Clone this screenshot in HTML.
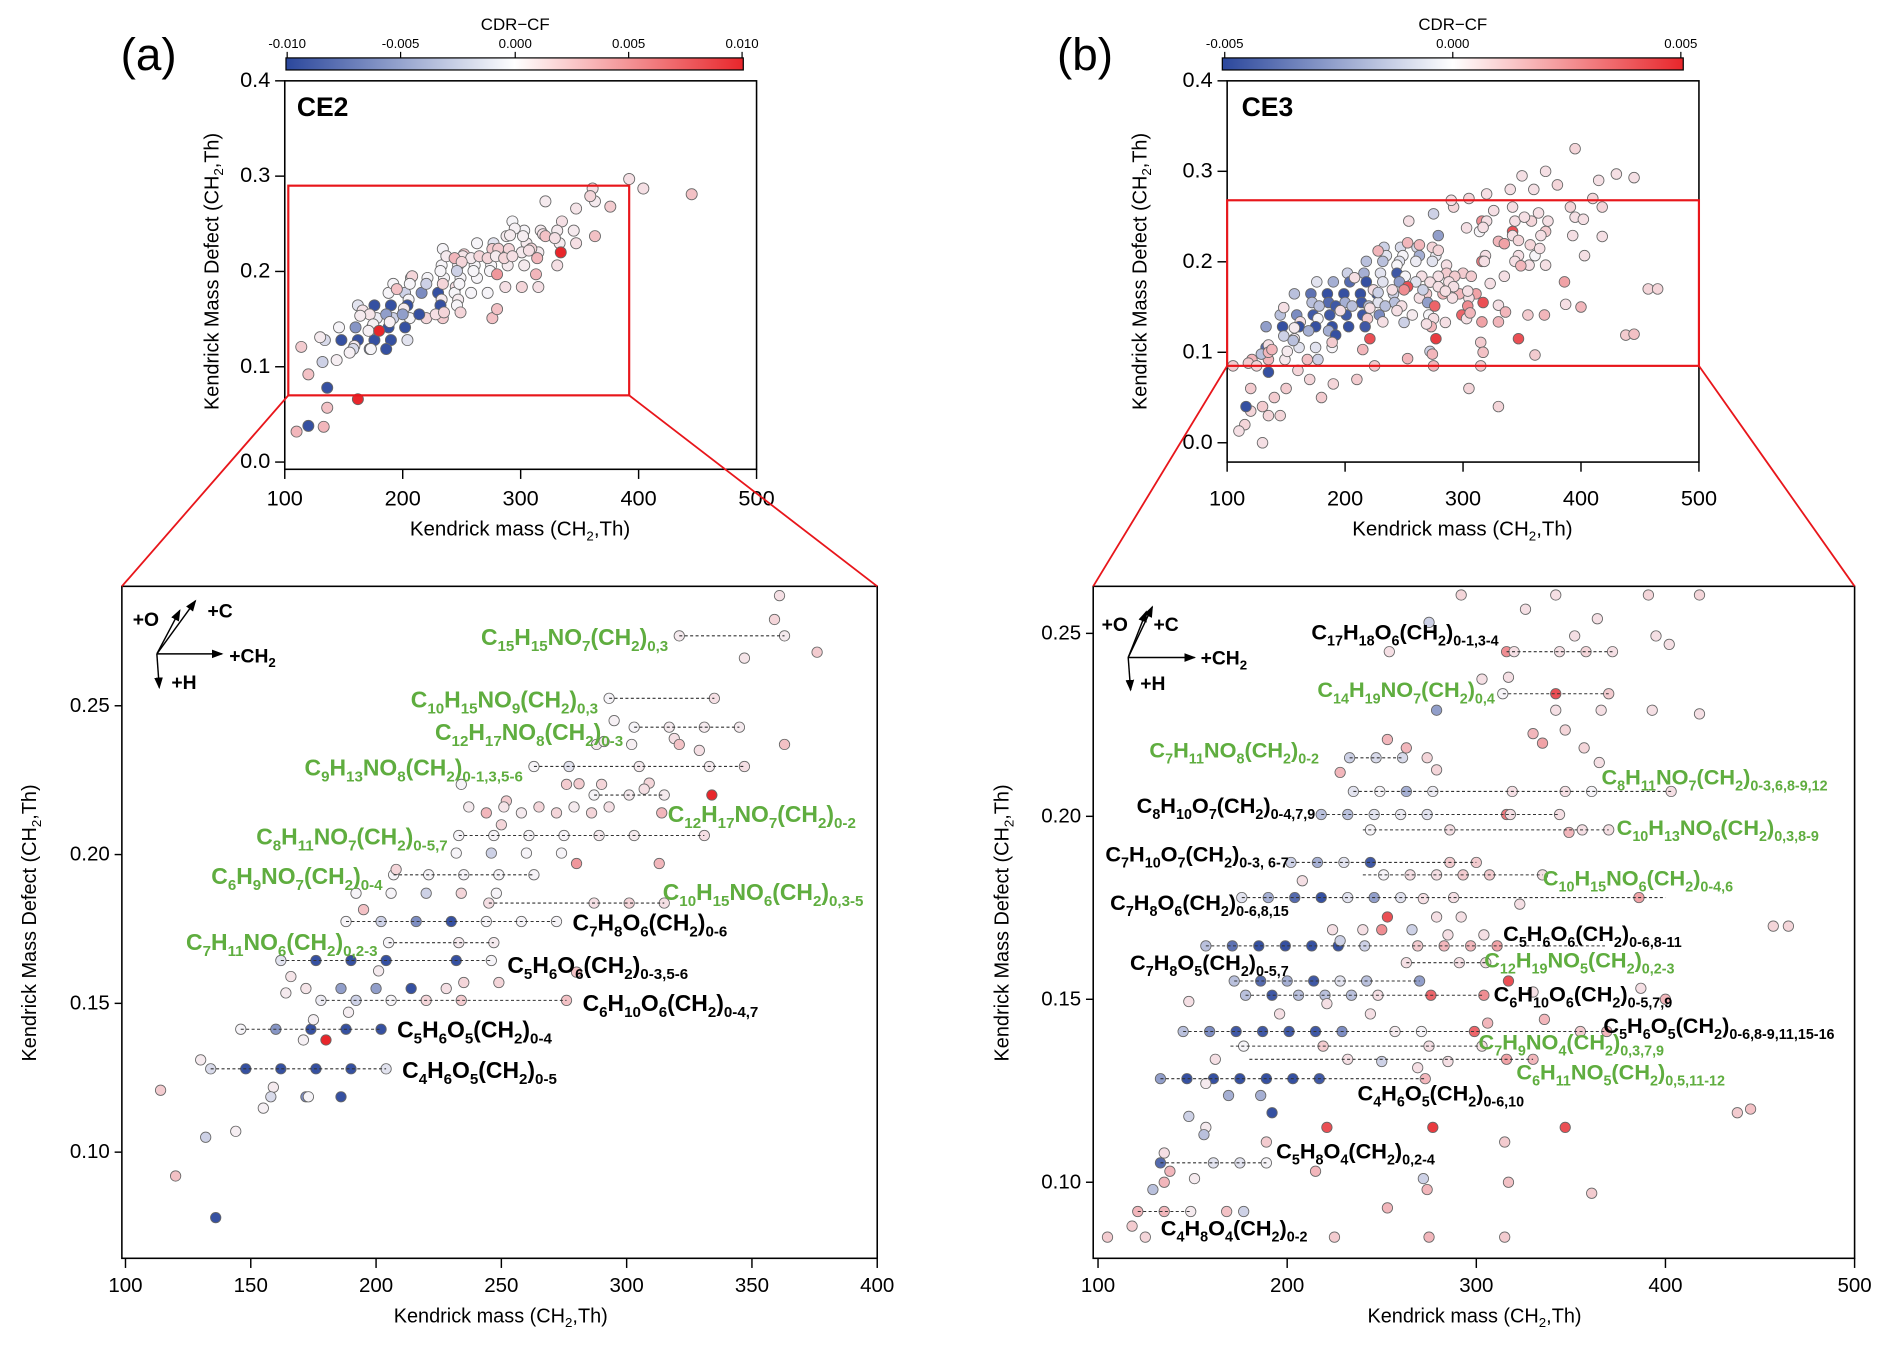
<!DOCTYPE html>
<html><head><meta charset="utf-8"><style>
html,body{margin:0;padding:0;background:#fff;overflow:hidden;width:1892px;height:1350px;}
svg{display:block;}
text{font-family:"Liberation Sans",Arial,sans-serif;}
.nar{font-family:"Liberation Sans Narrow","Liberation Sans",sans-serif;}
</style></head><body>
<svg id="fig" width="1892" height="1350" viewBox="0 0 1568 1119" preserveAspectRatio="none" xmlns="http://www.w3.org/2000/svg">
<defs>
<linearGradient id="cbg" x1="0" x2="1" y1="0" y2="0">
<stop offset="0" stop-color="#2b479c"/><stop offset="0.5" stop-color="#ffffff"/><stop offset="1" stop-color="#e8262b"/>
</linearGradient>
<marker id="arr" markerWidth="8" markerHeight="8" refX="7" refY="4" orient="auto"><path d="M0,1 L8,4 L0,7 z" fill="#000"/></marker>
</defs>
<text x="100" y="58" font-size="38">(a)</text>
<text x="427" y="25" font-size="14" text-anchor="middle" class="nar">CDR−CF</text>
<rect x="237" y="48" width="379" height="10" fill="url(#cbg)" stroke="#000" stroke-width="1"/>
<g class="nar" font-size="11" text-anchor="middle">
<text x="238" y="40">-0.010</text><text x="332" y="40">-0.005</text><text x="427" y="40">0.000</text><text x="521" y="40">0.005</text><text x="615" y="40">0.010</text>
<path d="M238,43V48M332,43V48M427,43V48M521,43V48M615,43V48" stroke="#000"/>
</g>
<rect x="236" y="67" width="391" height="322" fill="none" stroke="#000" stroke-width="1.3"/>
<text x="246" y="96" font-size="22" font-weight="bold" class="nar">CE2</text>
<text transform="translate(181,225) rotate(-90)" font-size="16.5" text-anchor="middle">Kendrick Mass Defect (CH<tspan font-size="11" dy="4">2</tspan><tspan dy="-4">,Th)</tspan></text>
<text x="431" y="444" font-size="17" text-anchor="middle" class="nar">Kendrick mass (CH<tspan font-size="11" dy="4">2</tspan><tspan dy="-4">,Th)</tspan></text>
<text x="876" y="58" font-size="38">(b)</text>
<text x="1204" y="25" font-size="14" text-anchor="middle" class="nar">CDR−CF</text>
<rect x="1013" y="48" width="382" height="10" fill="url(#cbg)" stroke="#000" stroke-width="1"/>
<g class="nar" font-size="11" text-anchor="middle">
<text x="1015" y="40">-0.005</text><text x="1204" y="40">0.000</text><text x="1393" y="40">0.005</text>
<path d="M1015,43V48M1204,43V48M1393,43V48" stroke="#000"/>
</g>
<rect x="1017" y="67" width="391" height="316" fill="none" stroke="#000" stroke-width="1.3"/>
<text x="1029" y="96" font-size="22" font-weight="bold" class="nar">CE3</text>
<text transform="translate(950,225) rotate(-90)" font-size="16.5" text-anchor="middle">Kendrick Mass Defect (CH<tspan font-size="11" dy="4">2</tspan><tspan dy="-4">,Th)</tspan></text>
<text x="1212" y="444" font-size="17" text-anchor="middle" class="nar">Kendrick mass (CH<tspan font-size="11" dy="4">2</tspan><tspan dy="-4">,Th)</tspan></text>
<rect x="101" y="486" width="626" height="557" fill="none" stroke="#000" stroke-width="1.3"/>
<rect x="906" y="486" width="631" height="557" fill="none" stroke="#000" stroke-width="1.3"/>
<text transform="translate(30,765) rotate(-90)" font-size="16.5" text-anchor="middle">Kendrick Mass Defect (CH<tspan font-size="11" dy="4">2</tspan><tspan dy="-4">,Th)</tspan></text>
<text x="415" y="1096" font-size="16.5" text-anchor="middle">Kendrick mass (CH<tspan font-size="11" dy="4">2</tspan><tspan dy="-4">,Th)</tspan></text>
<text transform="translate(836,765) rotate(-90)" font-size="16.5" text-anchor="middle">Kendrick Mass Defect (CH<tspan font-size="11" dy="4">2</tspan><tspan dy="-4">,Th)</tspan></text>
<text x="1222" y="1096" font-size="16.5" text-anchor="middle">Kendrick mass (CH<tspan font-size="11" dy="4">2</tspan><tspan dy="-4">,Th)</tspan></text>
<g stroke="#000" stroke-width="1.2" fill="none">
<line x1="130" y1="542" x2="184" y2="542" marker-end="url(#arr)"/>
<line x1="130" y1="542" x2="162" y2="498" marker-end="url(#arr)"/>
<line x1="130" y1="542" x2="149" y2="506" marker-end="url(#arr)"/>
<line x1="130" y1="542" x2="132" y2="570" marker-end="url(#arr)"/>
</g>
<g font-weight="bold" font-size="16">
<text x="110" y="519">+O</text><text x="172" y="512">+C</text><text x="190" y="549">+CH<tspan font-size="11" dy="4">2</tspan></text><text x="142" y="571">+H</text>
</g>
<g stroke="#000" stroke-width="1.2" fill="none">
<line x1="935" y1="545" x2="990" y2="545" marker-end="url(#arr)"/>
<line x1="935" y1="545" x2="955" y2="503" marker-end="url(#arr)"/>
<line x1="935" y1="545" x2="950" y2="507" marker-end="url(#arr)"/>
<line x1="935" y1="545" x2="937" y2="572" marker-end="url(#arr)"/>
</g>
<g font-weight="bold" font-size="16">
<text x="913" y="523">+O</text><text x="956" y="523">+C</text><text x="995" y="551">+CH<tspan font-size="11" dy="4">2</tspan></text><text x="945" y="572">+H</text>
</g>
<g id="dyn"></g>
</svg>
<script>
// ---------- panel (a) CE2: [mass, KMD, CDR-CF (normalised)] ----------
const aSeriesPoints = [
[321,.2735,.05],[363,.2735,.05],
[293,.2525,0],[335,.2525,.1],
[303,.2428,0],[317,.2428,.05],[331,.2428,.05],[345,.2428,.05],
[263,.2296,0],[277,.2296,-.1],[305,.2296,.05],[333,.2296,.05],[347,.2296,.1],
[287,.220,0],[301,.220,.05],[315,.220,.05],
[233,.2064,0],[247,.2064,0],[261,.2064,0],[275,.2064,0],[289,.2064,.05],[303,.2064,.05],[331,.2064,.1],
[207,.1932,0],[221,.1932,0],[235,.1932,0],[249,.1932,0],[263,.1932,0],
[245,.1837,.1],[287,.1837,.1],[301,.1837,.15],[315,.1837,.1],
[188,.1775,0],[202,.1775,-.2],[216,.1775,-.6],[230,.1775,-.95],[244,.1775,0],[258,.1775,0],[272,.1775,0],
[205,.1704,0],[233,.1704,.05],[247,.1704,.05],
[162,.1644,-.1],[176,.1644,-.95],[190,.1644,-.95],[204,.1644,-.95],[232,.1644,-.95],[246,.1644,0],
[178,.151,-.05],[192,.151,-.2],[206,.151,0],[220,.151,.15],[234,.151,.2],[276,.151,.25],
[146,.1413,0],[160,.1413,-.55],[174,.1413,-.95],[188,.1413,-.95],[202,.1413,-.95],
[134,.128,-.15],[148,.128,-.95],[162,.128,-.95],[176,.128,-.95],[190,.128,-.95],[204,.128,-.1]];
const aOtherPoints = [
[361,.287,.1],[359,.279,.15],[347,.266,.08],[376,.268,.2],[295,.245,.02],[288,.237,.05],[291,.238,.05],[302,.237,.03],[319,.239,.1],[321,.237,.25],[329,.235,.1],[363,.237,.25],
[234,.2236,0],[276,.2236,.2],[281,.2238,.2],[290,.2236,.15],[309,.224,.15],[307,.222,.1],[334,.220,1],
[237,.216,.05],[252,.218,.2],[251,.216,.08],[244,.214,.3],[258,.214,.05],[265,.216,.15],[272,.214,.15],[279,.216,.05],[286,.214,.15],[293,.216,.1],[314,.214,.3],[250,.210,.15],
[232,.2005,0],[246,.2005,-.2],[260,.2005,0],[274,.2005,0],[280,.197,.45],[313,.197,.3],
[208,.195,.15],[192,.187,0],[206,.187,0],[220,.187,-.2],[234,.187,.15],[248,.187,0],[195,.1815,.25],
[201,.1609,.05],[166,.159,.08],[280,.1605,.25],[172,.155,.08],[186,.155,-.5],[200,.155,-.5],[214,.155,-.95],[228,.155,.1],[235,.157,.15],[249,.157,.15],[164,.1535,.05],
[175,.1445,.02],[189,.147,.03],[171,.1377,.02],[180,.1377,1],
[130,.131,.05],[114,.1208,.2],[159,.1218,.05],[158,.1186,-.15],[172,.1186,-.6],[173,.1186,0],[186,.1186,-.95],[155,.1148,.02],[144,.107,.03],[132,.105,-.2],[120,.092,.25],[136,.078,-.95],
[445,.281,.25],[404,.287,.1],[392,.297,.1],[162,.066,1],[136,.057,.25],[120,.038,-.95],[133,.037,.3],[110,.032,.3]];
const aPoints = aSeriesPoints.concat(aOtherPoints);
const aMass = aPoints.map(p=>p[0]), aKmd = aPoints.map(p=>p[1]), aCdr = aPoints.map(p=>p[2]);
const aLineK = [.2735,.2525,.2428,.2296,.220,.2064,.1932,.1837,.1775,.1704,.1644,.151,.1413,.128];
const aLineStart = [321,293,303,263,287,233,207,245,188,205,162,178,146,134];
const aLineEnd = [363,335,345,347,315,331,263,315,272,247,246,276,202,204];
const aLabels = ["C15H15NO7(CH2)0,3","C10H15NO9(CH2)0,3","C12H17NO8(CH2)0-3","C9H13NO8(CH2)0-1,3,5-6","C12H17NO7(CH2)0-2","C8H11NO7(CH2)0-5,7","C6H9NO7(CH2)0-4","C10H15NO6(CH2)0,3-5","C7H8O6(CH2)0-6","C7H11NO6(CH2)0,2-3","C5H6O6(CH2)0-3,5-6","C6H10O6(CH2)0-4,7","C5H6O5(CH2)0-4","C4H6O5(CH2)0-5"];
const aLabelMass = [319,291,301,261,314,231,205,312,276,203,250,280,206,208];
const aLabelKmd = [.2725,.2515,.2405,.2286,.2130,.2054,.1922,.1868,.1765,.1700,.1623,.1495,.1405,.1270];
const aLabelSide = ["end","end","end","end","start","end","end","start","start","end","start","start","start","start"];
const aLabelGreen = [1,1,1,1,1,1,1,1,0,1,0,0,0,0];
const aXTicksTop = [100,200,300,400,500], aYTicksTop = [0.0,0.1,0.2,0.3,0.4];
const aXTicksZoom = [100,150,200,250,300,350,400], aYTicksZoom = [0.10,0.15,0.20,0.25];

// ---------- panel (b) CE3 ----------
const bSeriesPoints = [
[316,.245,.5],[320,.245,.1],[344,.245,.1],[358,.245,.15],[372,.245,.1],
[314,.2335,0],[342,.2335,.8],[370,.2335,.2],
[233,.216,-.2],[247,.216,-.15],[261,.216,-.15],
[235,.2068,-.1],[249,.2068,0],[263,.2068,-.4],[277,.2068,-.05],[319,.2068,.1],[347,.2068,.1],[361,.2068,0],[403,.2068,.1],
[218,.2005,-.3],[232,.2005,-.3],[246,.2005,-.1],[260,.2005,-.05],[274,.2005,-.1],[316,.2005,.6],[344,.2005,.1],
[244,.1963,0],[286,.1963,.1],[356,.1963,.1],[370,.1963,.1],
[202,.1874,-.2],[216,.1874,-.4],[230,.1874,-.1],[244,.1874,-.9],[286,.1874,.2],[300,.1874,.2],
[251,.184,0],[265,.184,.1],[279,.184,.1],[293,.184,.2],[307,.184,.2],[335,.184,.1],
[176,.1778,-.1],[190,.1778,-.4],[204,.1778,-.8],[218,.1778,-.95],[232,.1778,-.1],[246,.1778,-.5],[260,.1778,-.1],[288,.1778,.1],[386,.1778,.4],
[157,.1646,-.3],[171,.1646,-.75],[185,.1646,-.95],[199,.1646,-.95],[213,.1646,-.95],[227,.1646,-.95],[241,.1646,-.2],[269,.1646,.2],[283,.1646,.3],[297,.1646,.3],[311,.1646,.4],
[263,.160,.1],[291,.160,.1],[305,.160,.1],
[172,.155,-.3],[186,.155,-.8],[200,.155,-.4],[214,.155,-.9],[228,.155,-.1],[242,.155,-.3],[270,.155,-.5],
[178,.1511,-.3],[192,.1511,-.9],[206,.1511,-.3],[220,.1511,-.3],[234,.1511,-.3],[248,.1511,.1],[276,.1511,.7],[304,.1511,.5],
[145,.1412,-.3],[159,.1412,-.6],[173,.1412,-.9],[187,.1412,-.9],[201,.1412,-.9],[215,.1412,-.9],[229,.1412,-.6],[257,.1412,.05],[271,.1412,0],[299,.1412,.7],[355,.1412,.2],[369,.1412,.3],
[177,.1372,0],[219,.1372,.2],[275,.1372,.1],[303,.1372,.1],
[162,.1336,.1],[232,.1336,.1],[316,.1336,.4],[330,.1336,.3],
[133,.1283,-.5],[147,.1283,-.95],[161,.1283,-.95],[175,.1283,-.95],[189,.1283,-.95],[203,.1283,-.95],[217,.1283,-.9],[273,.1283,.3],
[133,.1053,-.8],[161,.1053,-.1],[175,.1053,-.1],[189,.1053,0],
[121,.092,.3],[135,.092,.3],[149,.092,.05]];
const bOtherPoints = [
[292,.2605,.15],[342,.2605,.1],[391,.2605,.15],[418,.2605,.15],[275,.253,-.2],[326,.2566,.1],[352,.2493,.1],[364,.254,.1],[395,.2493,.1],[402,.247,.1],[254,.245,.1],[303,.2375,.1],[317,.238,.1],[279,.229,-.5],[342,.229,.1],[366,.229,.1],[418,.228,.1],[393,.229,.1],[330,.2226,.3],[335,.220,.4],[347,.2236,.15],[357,.2187,.15],[365,.2147,.1],[263,.2187,.3],[274,.216,.15],[279,.2127,.15],[228,.212,.3],[253,.221,.3],[318,.2005,.1],[349,.1956,.3],[208,.1824,.1],[272,.1775,.1],[279,.1725,.1],[292,.1725,.1],[323,.176,.1],[224,.169,.1],[240,.169,.1],[253,.1725,.8],[266,.169,-.2],[285,.1676,.1],[304,.1676,.1],[228,.166,-.2],[250,.169,.5],[457,.170,.15],[317,.155,.8],[330,.152,.1],[387,.153,.1],[148,.1494,.1],[196,.146,.1],[221,.1488,.1],[244,.146,.1],[306,.1435,.3],[336,.1445,.3],[250,.133,-.2],[269,.1313,.1],[285,.133,.1],[157,.127,.05],[169,.1237,-.4],[186,.1237,-.4],[192,.119,-.95],[148,.118,-.2],[157,.115,.05],[156,.113,-.3],[221,.115,.8],[277,.115,.9],[347,.115,.8],[438,.119,.2],[135,.108,.1],[189,.111,.2],[315,.111,.2],[129,.098,-.3],[135,.100,.3],[151,.101,.05],[138,.103,.3],[215,.103,.3],[272,.101,-.2],[274,.098,.3],[253,.093,.3],[317,.100,.25],[361,.097,.2],[177,.092,-.2],[168,.092,.25],[118,.088,.2],
[395,.325,.15],[430,.297,.1],[415,.29,.1],[445,.293,.1],[380,.285,.15],[360,.28,.1],[340,.28,.1],[320,.275,.1],[305,.27,.15],[290,.268,.1],[410,.27,.15],[370,.30,.1],[350,.295,.1],[465,.17,.15],[445,.12,.25],[400,.15,.3],[330,.04,.15],[210,.07,.2],[225,.085,.2],[160,.08,.15],[150,.06,.2],[140,.05,.2],[130,.04,.2],[120,.035,.15],[115,.02,.15],[110,.013,.1],[130,.0,.1],[135,.03,.15],[145,.03,.15],[170,.07,.15],[180,.05,.2],[190,.065,.15],[275,.085,.3],[315,.085,.2],[305,.06,.15],[120,.06,.2],[125,.085,.15],[105,.085,.2],[116,.04,-.95],[135,.078,-.95]];
const bPoints = bSeriesPoints.concat(bOtherPoints);
const bMass = bPoints.map(p=>p[0]), bKmd = bPoints.map(p=>p[1]), bCdr = bPoints.map(p=>p[2]);
const bLineK = [.245,.2335,.216,.2068,.2005,.1963,.1874,.184,.1778,.1646,.160,.155,.1511,.1412,.1372,.1336,.1283,.1053,.092];
const bLineStart = [316,314,233,235,218,240,202,240,176,157,263,172,178,145,170,180,133,133,121];
const bLineEnd = [372,370,261,403,344,370,300,335,400,368,305,270,304,369,303,330,273,189,149];
const bLabels = ["C17H18O6(CH2)0-1,3-4","C14H19NO7(CH2)0,4","C7H11NO8(CH2)0-2","C8H11NO7(CH2)0-3,6,8-9,12","C8H10O7(CH2)0-4,7,9","C10H13NO6(CH2)0,3,8-9","C7H10O7(CH2)0-3, 6-7","C10H15NO6(CH2)0-4,6","C7H8O6(CH2)0-6,8,15","C5H6O6(CH2)0-6,8-11","C12H19NO5(CH2)0,2-3","C7H8O5(CH2)0-5,7","C6H10O6(CH2)0-5,7,9","C5H6O5(CH2)0-6,8-9,11,15-16","C7H9NO4(CH2)0,3,7,9","C6H11NO5(CH2)0,5,11-12","C4H6O5(CH2)0-6,10","C5H8O4(CH2)0,2-4","C4H8O4(CH2)0-2"];
const bLabelMass = [315,313,220,363,218,371,204,332,204,311,301,204,306,364,298,318,234,191,130];
const bLabelKmd = [.2500,.2342,.2177,.2104,.2025,.1966,.1893,.1827,.1761,.1676,.1603,.1597,.1511,.1425,.1379,.1297,.1240,.1082,.0871];
const bLabelSide = ["end","end","end","start","end","start","end","start","end","start","start","end","start","start","start","start","start","start","start"];
const bLabelGreen = [0,1,1,1,0,1,0,1,0,0,1,0,0,0,1,1,0,0,0];
const bXTicksTop = [100,200,300,400,500], bYTicksTop = [0.0,0.1,0.2,0.3,0.4];
const bXTicksZoom = [100,200,300,400,500], bYTicksZoom = [0.10,0.15,0.20,0.25];

// ---------- axis functions ----------
const axT = m => 236 + (m-100)*0.9775, ayT = k => 383 - k*790;
const axZ = m => 104 + (m-100)*2.0767, ayZ = k => 585 + (0.25-k)*2466.7;
const bxT = m => 1017 + (m-100)*0.9775, byT = k => 367 - k*750;
const bxZ = m => 910 + (m-100)*1.5675, byZ = k => 525 + (0.25-k)*3033;

const NS = "http://www.w3.org/2000/svg";
const root = document.getElementById('dyn');
function mk(tag, attrs, parent){ const e = document.createElementNS(NS, tag); for (const k in attrs) e.setAttribute(k, attrs[k]); (parent||root).appendChild(e); return e; }
function mix(a,b,t){ return a.map((v,i)=>Math.round(v+(b[i]-v)*t)); }
function colorOf(c){
  const w=[246,244,248], bl=[43,71,156], rd=[232,38,43];
  const t=Math.min(1,Math.abs(c||0)); const r = c<0 ? mix(w,bl,t) : mix(w,rd,t);
  return 'rgb('+r.join(',')+')';
}
function group(name){ const g = mk('g', {});

 return g; }

function drawPoints(mass, kmd, cdr, fx, fy, r, name, box){
  const g = group(name);
  for (let i=0;i<mass.length;i++){
    const x = fx(mass[i]), y = fy(kmd[i]);
    if (box && (x < box[0]+r || x > box[2]-r || y < box[1]+r || y > box[3]-r)) continue;
    const c = mk('circle',{cx:x,cy:y,r:r,fill:colorOf(cdr[i]),stroke:'#666','stroke-width':0.7},g);
    
    
  }
}
function drawLines(K, S, E, fx, fy, name){
  const g = group(name);
  for (let i=0;i<K.length;i++){
    const l = mk('line',{x1:fx(S[i]),x2:fx(E[i]),y1:fy(K[i]),y2:fy(K[i]),stroke:'#333','stroke-width':0.9,'stroke-dasharray':'2.5,2'},g);
    
    
  }
}
function formula(parent, str, x, y, anchor, fill, fs){
  const t = mk('text',{x:x,y:y,'text-anchor':anchor,fill:fill,'font-size':fs,'font-weight':'bold'},parent);
  
  
  const p = str.indexOf(')');
  const main = str.slice(0,p+1), tail = str.slice(p+1);
  const dd = Math.round(fs*0.28);
  let i=0, sub=false;
  while (i<main.length){
    let j=i; const isD = /[0-9]/.test(main[i]);
    while (j<main.length && /[0-9]/.test(main[j])===isD) j++;
    const s = mk('tspan',{},t); s.textContent = main.slice(i,j);
    if (isD){ s.setAttribute('font-size',fs*0.66); if(!sub){ s.setAttribute('dy',dd); sub=true; } }
    else if (sub){ s.setAttribute('dy',-dd); sub=false; }
    i=j;
  }
  const s2 = mk('tspan',{'font-size':fs*0.66},t); s2.textContent = tail;
  if (!sub) s2.setAttribute('dy',dd);
}
function drawLabels(L, M, K, side, green, fx, fy, fs, name){
  const g = group(name);
  for (let i=0;i<L.length;i++){
    formula(g, L[i], fx(M[i]) + (side[i]==='end'?-5:5), fy(K[i])+5, side[i], green[i]?'#5fad3f':'#000', fs);
  }
}
function ticks(vals, isX, pos, f, len, fmt, cls, fs, name, lblOff){
  const g = group(name);
  if (cls) g.setAttribute('class', cls);
  vals.forEach(v=>{
    const p = f(v);
    if (isX){ mk('line',{x1:p,x2:p,y1:pos,y2:pos+len,stroke:'#000','stroke-width':1.2},g);
      const t = mk('text',{x:p,y:pos+lblOff,'text-anchor':'middle','font-size':fs},g); t.textContent = fmt(v);
      
       }
    else { mk('line',{x1:pos-len,x2:pos,y1:p,y2:p,stroke:'#000','stroke-width':1.2},g);
      const t = mk('text',{x:pos-len-4,y:p+5,'text-anchor':'end','font-size':fs},g); t.textContent = fmt(v);
      
       }
  });
}
const f0 = v=>String(v), f1 = v=>v.toFixed(1), f2 = v=>v.toFixed(2);

ticks(aXTicksTop, true, 389, axT, 8, f0, 'nar', 18, 'x-ticks-a-top', 30);
ticks(aYTicksTop, false, 236, ayT, 8, f1, 'nar', 18, 'y-ticks-a-top');
ticks(aXTicksZoom, true, 1043, axZ, 8, f0, '', 17, 'x-ticks-a-zoom', 28);
ticks(aYTicksZoom, false, 101, ayZ, 6, f2, '', 17, 'y-ticks-a-zoom');
ticks(bXTicksTop, true, 383, bxT, 8, f0, 'nar', 18, 'x-ticks-b-top', 36);
ticks(bYTicksTop, false, 1017, byT, 8, f1, 'nar', 18, 'y-ticks-b-top');
ticks(bXTicksZoom, true, 1043, bxZ, 8, f0, '', 17, 'x-ticks-b-zoom', 28);
ticks(bYTicksZoom, false, 906, byZ, 6, f2, '', 17, 'y-ticks-b-zoom');

drawPoints(aMass, aKmd, aCdr, axT, ayT, 4.6, 'scatter-a-top', null);
drawPoints(bMass, bKmd, bCdr, bxT, byT, 4.4, 'scatter-b-top', null);
(function(){
  const g = group('zoom-region-a');
  mk('rect',{x:axT(103),y:ayT(0.29),width:axT(392)-axT(103),height:ayT(0.07)-ayT(0.29),fill:'none',stroke:'#e8161b','stroke-width':1.8},g);
  mk('line',{x1:axT(103),y1:ayT(0.07),x2:101,y2:486,stroke:'#e8161b','stroke-width':1.5},g);
  mk('line',{x1:axT(392),y1:ayT(0.07),x2:727,y2:486,stroke:'#e8161b','stroke-width':1.5},g);
  const h = group('zoom-region-b');
  mk('rect',{x:bxT(100),y:byT(0.268),width:bxT(500)-bxT(100),height:byT(0.085)-byT(0.268),fill:'none',stroke:'#e8161b','stroke-width':1.8},h);
  mk('line',{x1:bxT(100),y1:byT(0.085),x2:906,y2:486,stroke:'#e8161b','stroke-width':1.5},h);
  mk('line',{x1:bxT(500),y1:byT(0.085),x2:1537,y2:486,stroke:'#e8161b','stroke-width':1.5},h);
})();
drawPoints(aMass, aKmd, aCdr, axZ, ayZ, 4.3, 'scatter-a-zoom', [101,486,727,1043]);
drawLines(aLineK, aLineStart, aLineEnd, axZ, ayZ, 'series-lines-a');
drawLabels(aLabels, aLabelMass, aLabelKmd, aLabelSide, aLabelGreen, axZ, ayZ, 19, 'series-labels-a');
drawPoints(bMass, bKmd, bCdr, bxZ, byZ, 4.3, 'scatter-b-zoom', [906,486,1537,1043]);
drawLines(bLineK, bLineStart, bLineEnd, bxZ, byZ, 'series-lines-b');
drawLabels(bLabels, bLabelMass, bLabelKmd, bLabelSide, bLabelGreen, bxZ, byZ, 18, 'series-labels-b');
</script>
</body></html>
